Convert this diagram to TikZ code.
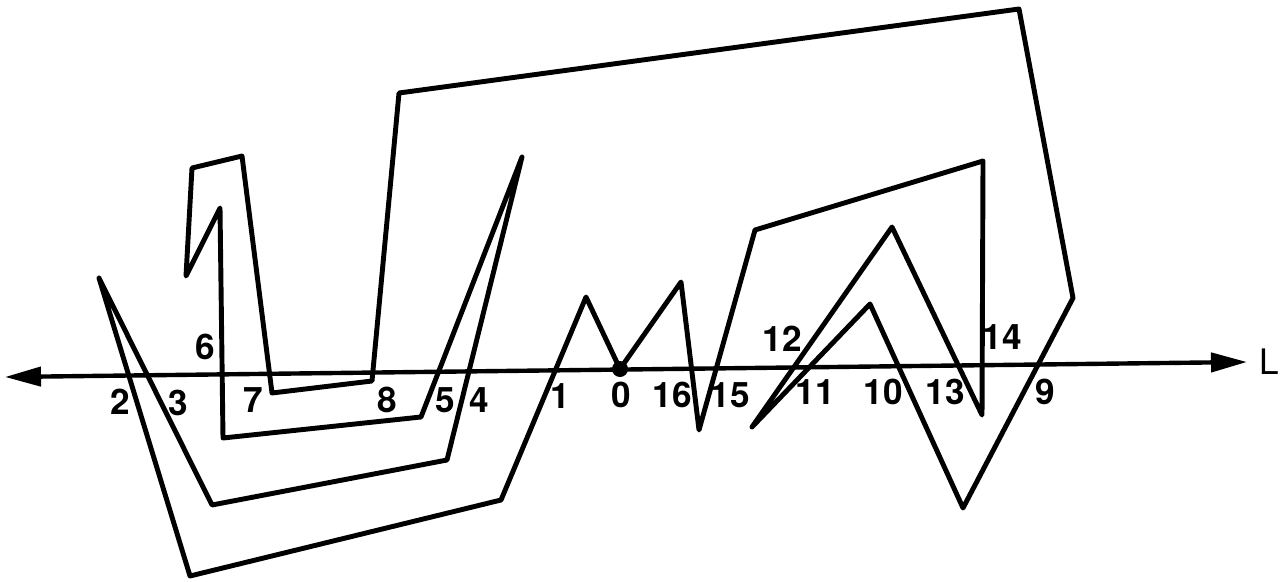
\documentclass[tikz,border=0pt]{standalone}
\usepackage{fontspec}
\setmainfont{TeX Gyre Heros}
\usepackage{tikz}
\usetikzlibrary{arrows.meta}
\tikzset{every picture/.style={line width=2.8pt}}
\tikzset{
  curve/.style={line join=round, line cap=round},
  crosslabel/.style={font=\fontsize{20}{24}\selectfont\bfseries, inner sep=0pt},
  axistip/.tip={Triangle[length=0.72cm, width=0.38cm]}
}

\begin{document}
\begin{tikzpicture}[x=0.02cm, y=-0.02cm]
    \useasboundingbox (0,0) rectangle (1283,581);

    % the line L
    \coordinate (Lw) at (5,377);
    \coordinate (Le) at (1247,362);
    \draw[axistip-axistip, line width=2.5pt] (Lw) -- (Le);
    \node[crosslabel, font=\fontsize{20}{24}\selectfont, anchor=west] (labL) at (1257,362) {L};

    % closed curve, starting at 0
    \coordinate (p0) at (620,369);
    \draw[curve] (p0) -- (586,297) -- (501,500) -- (190,576) -- (99,278)
        -- (212,505) -- (447,460) -- (522,157) -- (421,417) -- (223,438)
        -- (220,208) -- (186,276) -- (192,168) -- (242,156) -- (272,393)
        -- (372,381) -- (399,93) -- (1019,9) -- (1073,298) -- (963,508)
        -- (870,304) -- (752,427) -- (892,227) -- (982,415) -- (983,161)
        -- (755,230) -- (699,430) -- (681,282) -- cycle;
    \fill (p0) circle (8);

    % crossing numbers
    \foreach \t/\x/\y in {0/621/395, 1/560/396, 2/120/402, 3/178/403, 4/479/400,
        5/445/400, 6/205/347, 7/253/400, 8/387/400, 9/1045/392, 10/883/392,
        11/815/392, 12/782/339, 13/945/392, 14/1002/337, 15/730/395, 16/672/395} {
        \node[crosslabel] (c\t) at (\x,\y) {\t};
    }
\end{tikzpicture}
\end{document}
